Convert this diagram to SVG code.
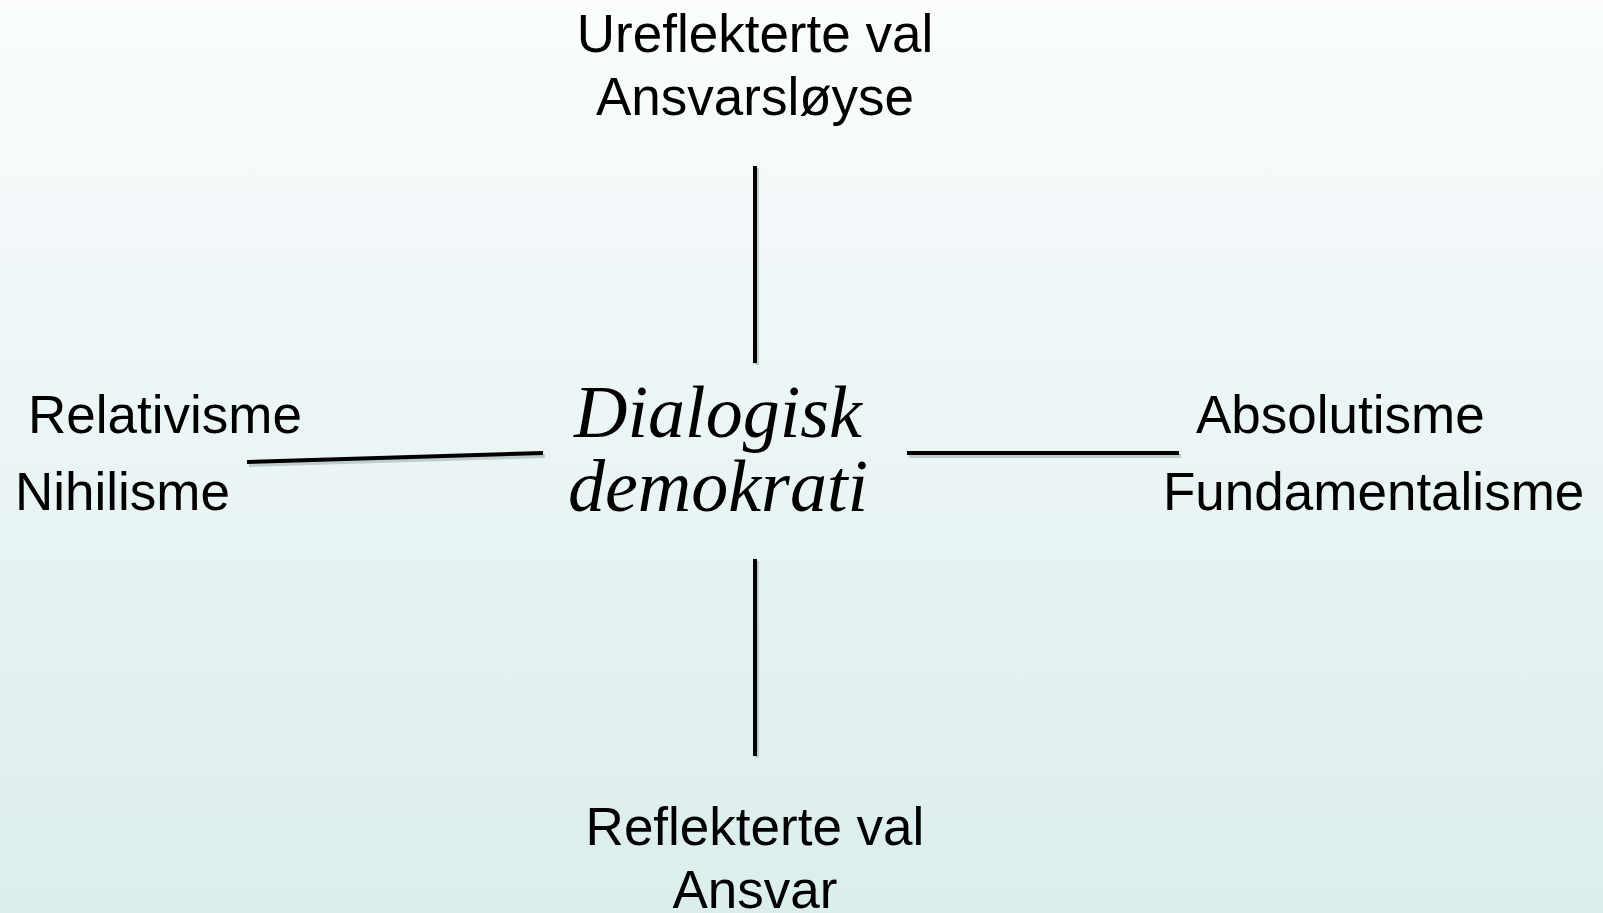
<svg xmlns="http://www.w3.org/2000/svg" width="1603" height="913" viewBox="0 0 1603 913">
<defs>
<linearGradient id="bg" x1="0" y1="0" x2="0" y2="1">
<stop offset="0" stop-color="#fafcfd"/>
<stop offset="1" stop-color="#dbeded"/>
</linearGradient>
<style>
.lbl{font-family:"Liberation Sans",Arial,sans-serif;font-size:53px;fill:#000}
.mid{text-anchor:middle}
.ctr{font-family:"Liberation Serif","DejaVu Serif",serif;font-style:italic;font-size:74px;fill:#000;text-anchor:middle}
.ln{stroke:#000;stroke-width:4;fill:none}
.sh{stroke:#9fb0b0;stroke-opacity:0.6;stroke-width:4;fill:none}
</style>
</defs>
<rect width="1603" height="913" fill="url(#bg)"/>
<g id="connectors">
<line class="sh" x1="757" y1="168" x2="757" y2="365"/>
<line class="sh" x1="757" y1="561" x2="757" y2="758"/>
<line class="sh" x1="249" y1="465" x2="545" y2="456"/>
<line class="sh" x1="909" y1="456" x2="1181" y2="456"/>
<line class="ln" x1="755" y1="166" x2="755" y2="363"/>
<line class="ln" x1="755" y1="559" x2="755" y2="756"/>
<line class="ln" x1="247" y1="462" x2="543" y2="453"/>
<line class="ln" x1="907" y1="453" x2="1179" y2="453" stroke-width="5"/>
</g>
<g id="center">
<text class="ctr" x="718" y="437">Dialogisk</text>
<text class="ctr" x="718" y="511">demokrati</text>
</g>
<g id="top">
<text class="lbl mid" x="755" y="52">Ureflekterte val</text>
<text class="lbl mid" x="755" y="115">Ansvarsløyse</text>
</g>
<g id="bottom">
<text class="lbl mid" x="755" y="845">Reflekterte val</text>
<text class="lbl mid" x="755" y="908">Ansvar</text>
</g>
<g id="left">
<text class="lbl" x="28" y="433">Relativisme</text>
<text class="lbl" x="15" y="510">Nihilisme</text>
</g>
<g id="right">
<text class="lbl" x="1196" y="433">Absolutisme</text>
<text class="lbl" x="1163" y="510">Fundamentalisme</text>
</g>
</svg>
